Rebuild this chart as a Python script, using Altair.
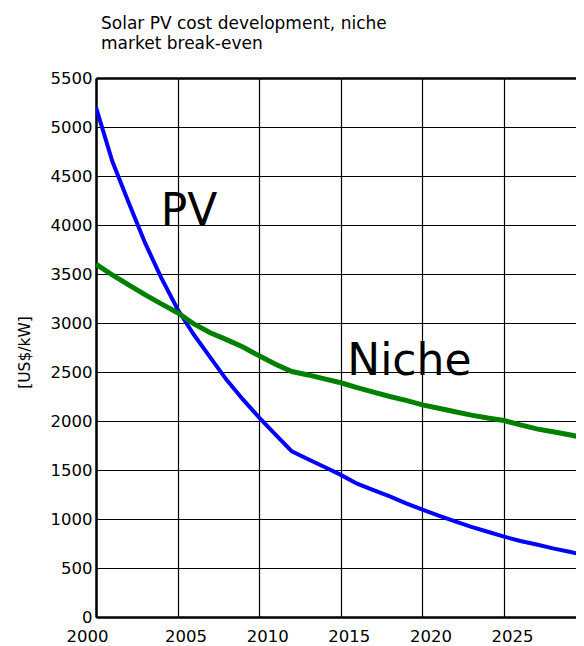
import altair as alt
import pandas as pd

years = list(range(2000, 2031))
pv_cost = [5200, 4650, 4230, 3820, 3460, 3140, 2880, 2650, 2420, 2220,
           2035, 1860, 1690, 1610, 1530, 1450, 1360, 1295, 1230, 1160,
           1095, 1035, 975, 920, 870, 820, 775, 740, 700, 665, 630]
niche_cost = [3600, 3490, 3390, 3290, 3195, 3105, 2990, 2900, 2830, 2755,
              2665, 2580, 2505, 2470, 2430, 2390, 2340, 2295, 2250, 2210,
              2165, 2130, 2095, 2060, 2030, 2005, 1960, 1920, 1890, 1860, 1825]

label_text = ["PV", "Niche"]
label_year = [2005.7, 2019.2]
label_value = [4003, 2472]

x_ticks = [2000, 2005, 2010, 2015, 2020, 2025]
y_ticks = list(range(0, 5501, 500))

df = pd.DataFrame({"year": years, "pv": pv_cost, "niche": niche_cost})
lab = pd.DataFrame({"text": label_text, "year": label_year, "value": label_value})

FONT = "DejaVu Sans"

x_scale = alt.Scale(domain=[2000, 2029.41], nice=False, zero=False)
y_scale = alt.Scale(domain=[0, 5500], nice=False)

x_axis = alt.Axis(
    values=x_ticks, format="d", title=None, ticks=False,
    labelFont=FONT, labelFontSize=16.5, labelColor="black",
    labelPadding=11, labelAlign="center",
    labelOffset={"condition": {"test": "datum.value == 2000", "value": -9}, "value": 8},
    grid=True, gridColor="black", gridWidth=1.2, gridOpacity=1,
    domainColor="black", domainWidth=2.5, labelFlush=False,
)
y_axis = alt.Axis(
    values=y_ticks, format="d", title="[US$/kW]", ticks=False,
    labelFont=FONT, labelFontSize=16.5, labelColor="black", labelPadding=4,
    grid=True, gridColor="black", gridOpacity=1,
    gridWidth={"condition": {"test": "datum.value == 5500", "value": 2.5}, "value": 1.2},
    domainColor="black", domainWidth=2.5, labelFlush=False,
    titleFont=FONT, titleFontSize=15.5, titleFontWeight="normal", titleColor="black",
    titleAngle=270, titleX=-72, titleY=274, titleAlign="center", titleBaseline="middle",
)

pv_line = alt.Chart(df).mark_line(color="#0000ff", strokeWidth=4, clip=True).encode(
    x=alt.X("year:Q", scale=x_scale, axis=x_axis),
    y=alt.Y("pv:Q", scale=y_scale, axis=y_axis),
)
niche_line = alt.Chart(df).mark_line(color="#008000", strokeWidth=5, clip=True).encode(
    x=alt.X("year:Q", scale=x_scale),
    y=alt.Y("niche:Q", scale=y_scale),
)
labels = alt.Chart(lab).mark_text(
    font=FONT, fontSize=44, color="black", align="center", baseline="alphabetic"
).encode(
    x=alt.X("year:Q", scale=x_scale),
    y=alt.Y("value:Q", scale=y_scale),
    text="text:N",
)

chart = alt.layer(pv_line, niche_line, labels).properties(
    width=480,
    height=539,
    autosize=alt.AutoSizeParams(type="none"),
    padding={"left": 88, "top": 70, "right": 0, "bottom": 29},
    title=alt.TitleParams(
        text=["Solar PV cost development, niche", "market break-even"],
        anchor="start", frame="group", dx=5, offset=17,
        font=FONT, fontSize=17, fontWeight="normal", color="black", lineHeight=20,
    ),
).configure_view(stroke=None).configure(background="white")

chart.save("out.html", embed_options={"renderer": "svg", "actions": False})
